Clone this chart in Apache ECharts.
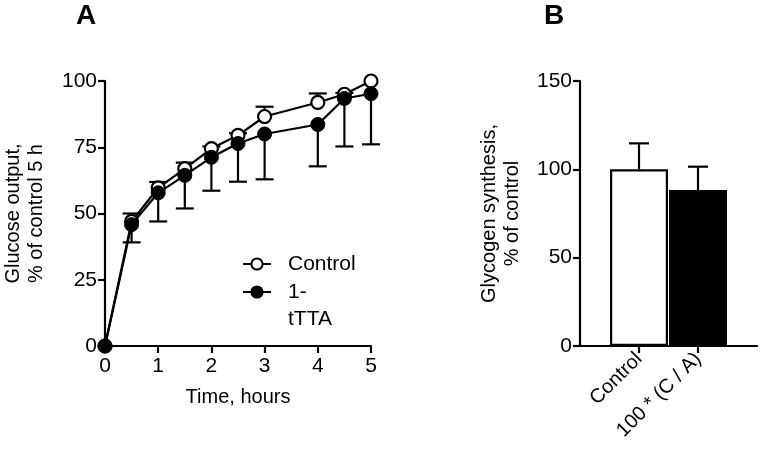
<!DOCTYPE html>
<html>
<head>
<meta charset="utf-8">
<script src="https://cdn.jsdelivr.net/npm/echarts@6/dist/echarts.min.js"></script>
<style>html,body{margin:0;padding:0;background:#fff}#c{width:760px;height:453px}</style>
</head>
<body>
<div id="c"></div>
<script>
// Panel A data
var timeHours = [0, 0.5, 1, 1.5, 2, 2.5, 3, 4, 4.5, 5];
var controlMean = [0, 47, 59.7, 66.9, 74.5, 79.5, 86.6, 91.9, 95, 100];
var controlErrUp = [0, 3, 2.2, 2.3, 0.8, 0.8, 3.7, 3.4, 0.5, 0];
var tttaMean = [0, 45.8, 57.8, 64.4, 71.2, 76.4, 80, 83.6, 93.4, 95.2];
var tttaErrDown = [0, 6.7, 10.8, 12.5, 12.6, 14.4, 17.1, 15.8, 18.1, 19.1];
var panelAXTicks = [0, 1, 2, 3, 4, 5];
var panelAYTicks = [0, 25, 50, 75, 100];

// Panel B data
var barCategories = ['Control', '100 * (C / A)'];
var barValues = [100, 88.3];
var barErrUp = [14.7, 13.2];
var panelBYTicks = [0, 50, 100, 150];

var FONT = 'Liberation Sans, Arial, sans-serif';
var chart = echarts.init(document.getElementById('c'), null, {renderer: 'canvas'});

function pairs(xs, ys) { return xs.map(function (x, i) { return [x, ys[i]]; }); }

function errRenderer(capHalf) {
  return function (params, api) {
    var x = api.value(0), y = api.value(1), e = api.value(2);
    if (!e) return null;
    var p0 = api.coord([x, y]);
    var p1 = api.coord([x, y + e]);
    var st = {stroke: '#000', lineWidth: 2.2};
    return {
      type: 'group',
      children: [
        {type: 'line', shape: {x1: p0[0], y1: p0[1], x2: p1[0], y2: p1[1]}, style: st},
        {type: 'line', shape: {x1: p1[0] - capHalf, y1: p1[1], x2: p1[0] + capHalf, y2: p1[1]}, style: st}
      ]
    };
  };
}

var axisLineStyle = {color: '#000', width: 2.2};
var labelStyle = {color: '#000', fontSize: 21, fontFamily: FONT, margin: 8};

var option = {
  animation: false,
  backgroundColor: '#fff',
  textStyle: {fontFamily: FONT},
  graphic: [
    {type: 'text', left: 76, top: 2, style: {text: 'A', font: 'bold 28px ' + FONT, fill: '#000'}},
    {type: 'text', left: 544, top: 2, style: {text: 'B', font: 'bold 28px ' + FONT, fill: '#000'}}
  ],
  legend: [
    {
      left: 237, top: 245.5, orient: 'vertical',
      itemWidth: 28, itemHeight: 14,
      data: ['Control'],
      textStyle: {color: '#000', fontSize: 21, fontFamily: FONT, lineHeight: 27, padding: [0, 0, 0, 12]}
    },
    {
      left: 237, top: 246.5, orient: 'vertical',
      itemWidth: 28, itemHeight: 14,
      data: ['1-\ntTTA'],
      formatter: function (name) { return '\u00a0\n' + name; },
      textStyle: {color: '#000', fontSize: 21, fontFamily: FONT, lineHeight: 27, padding: [0, 0, 0, 12]}
    }
  ],
  grid: [
    {left: 105, top: 81, width: 266, height: 265},
    {left: 580, top: 81, width: 177, height: 265}
  ],
  xAxis: [
    {
      gridIndex: 0, type: 'value', min: 0, max: 5, interval: 1,
      name: 'Time, hours', nameLocation: 'middle', nameGap: 41,
      nameTextStyle: {color: '#000', fontSize: 20, fontFamily: FONT},
      axisLine: {lineStyle: axisLineStyle},
      axisTick: {show: true, length: 7, lineStyle: axisLineStyle},
      axisLabel: {color: '#000', fontSize: 21, fontFamily: FONT, margin: 10, showMinLabel: true, showMaxLabel: true},
      splitLine: {show: false}
    },
    {
      gridIndex: 1, type: 'value', min: 0, max: 3, interval: 1,
      axisLine: {lineStyle: axisLineStyle},
      axisTick: {show: true, length: 7, lineStyle: axisLineStyle, customValues: [1, 2]},
      axisLabel: {
        color: '#000', fontSize: 20, fontFamily: FONT, rotate: 45, margin: 10,
        customValues: [1, 2],
        formatter: function (v) { return barCategories[Math.round(v) - 1] || ''; }
      },
      splitLine: {show: false}
    }
  ],
  yAxis: [
    {
      gridIndex: 0, type: 'value', min: 0, max: 100, interval: 25,
      name: 'Glucose output,\n% of control 5 h', nameLocation: 'middle', nameGap: 57,
      nameTextStyle: {color: '#000', fontSize: 20, fontFamily: FONT, lineHeight: 23},
      axisLine: {show: true, lineStyle: axisLineStyle},
      axisTick: {show: true, length: 7, lineStyle: axisLineStyle},
      axisLabel: labelStyle,
      splitLine: {show: false}
    },
    {
      gridIndex: 1, type: 'value', min: 0, max: 150, interval: 50,
      name: 'Glycogen synthesis,\n% of control', nameLocation: 'middle', nameGap: 56,
      nameTextStyle: {color: '#000', fontSize: 20, fontFamily: FONT, lineHeight: 23},
      axisLine: {show: true, lineStyle: axisLineStyle},
      axisTick: {show: true, length: 7, lineStyle: axisLineStyle},
      axisLabel: labelStyle,
      splitLine: {show: false}
    }
  ],
  series: [
    {
      type: 'custom', xAxisIndex: 0, yAxisIndex: 0, z: 1,
      data: timeHours.map(function (t, i) { return [t, controlMean[i], controlErrUp[i]]; }),
      renderItem: errRenderer(9), silent: true
    },
    {
      type: 'custom', xAxisIndex: 0, yAxisIndex: 0, z: 1,
      data: timeHours.map(function (t, i) { return [t, tttaMean[i], -tttaErrDown[i]]; }),
      renderItem: errRenderer(9), silent: true
    },
    {
      name: 'Control', type: 'line', xAxisIndex: 0, yAxisIndex: 0, z: 3,
      data: pairs(timeHours, controlMean),
      symbol: 'circle', symbolSize: 13,
      lineStyle: {color: '#000', width: 2.2},
      itemStyle: {color: '#fff', borderColor: '#000', borderWidth: 2.2}
    },
    {
      name: '1-\ntTTA', type: 'line', xAxisIndex: 0, yAxisIndex: 0, z: 4,
      data: pairs(timeHours, tttaMean),
      symbol: 'circle', symbolSize: 14,
      lineStyle: {color: '#000', width: 2.2},
      itemStyle: {color: '#000', borderColor: '#000', borderWidth: 1}
    },
    {
      type: 'custom', xAxisIndex: 1, yAxisIndex: 1, z: 1,
      data: barValues.map(function (v, i) { return [i + 1, v, barErrUp[i]]; }),
      renderItem: errRenderer(10), silent: true
    },
    {
      type: 'bar', xAxisIndex: 1, yAxisIndex: 1, z: 2,
      barWidth: 58,
      data: barValues.map(function (v, i) {
        return {
          value: [i + 1, v],
          itemStyle: i === 0
            ? {color: '#fff', borderColor: '#000', borderWidth: 2.2}
            : {color: '#000', borderColor: '#000', borderWidth: 2.2}
        };
      })
    }
  ]
};
chart.setOption(option);
</script>
</body>
</html>
